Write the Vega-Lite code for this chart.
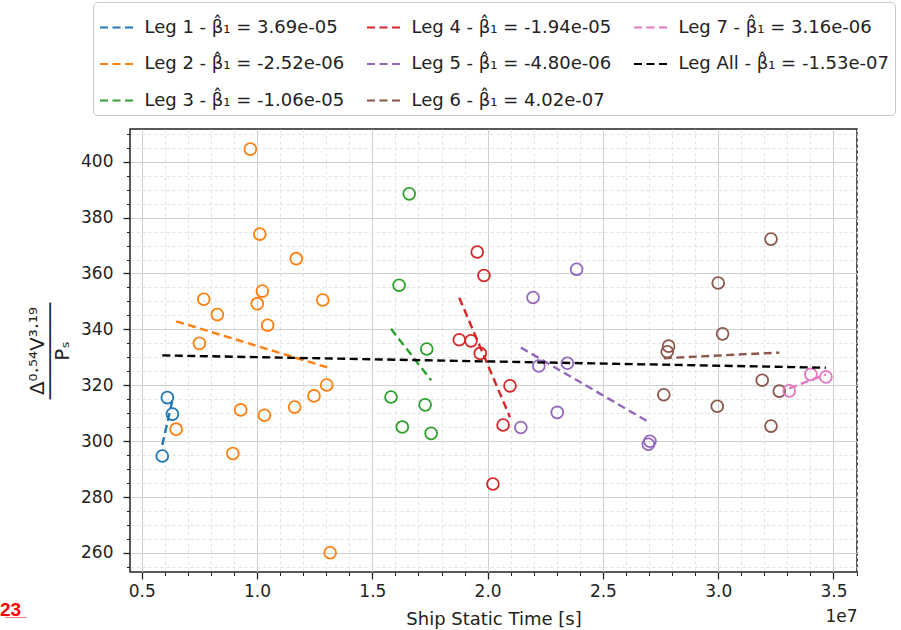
{
  "$schema": "https://vega.github.io/schema/vega-lite/v6.json",
  "width": 727,
  "height": 443,
  "autosize": {"type": "none"},
  "padding": {"left": 130, "top": 129, "right": 44, "bottom": 58},
  "background": "#ffffff",
  "title": {"text": "2̲3̲", "orient": "bottom", "anchor": "start", "frame": "group", "dx": -130, "dy": -27, "offset": 0, "color": "#ff0000", "fontSize": 19, "fontWeight": "bold", "font": "Liberation Sans"},
  "config": {
    "font": "DejaVu Sans",
    "view": {"stroke": "#222222", "strokeWidth": 1.5},
    "legend": {
      "orient": "none", "legendX": -37, "legendY": -127, "columns": 3, "title": null,
      "symbolType": "stroke", "symbolSize": 1369, "symbolStrokeWidth": 2.2, "symbolDash": [8, 4.5], "symbolOpacity": 1,
      "labelFontSize": 18, "labelFont": "DejaVu Sans", "labelColor": "#222222", "labelLimit": 400, "labelOffset": 6,
      "strokeColor": "#c8c8c8", "fillColor": "#ffffff", "cornerRadius": 4, "padding": 5.5, "rowPadding": 7.5, "columnPadding": 18
    }
  },
  "datasets": {
    "points": [
      {"leg": "Leg 1", "x": 5890000, "y": 294.7}, {"leg": "Leg 1", "x": 6110000, "y": 315.6}, {"leg": "Leg 1", "x": 6330000, "y": 309.7},
      {"leg": "Leg 2", "x": 9710000, "y": 404.5}, {"leg": "Leg 2", "x": 10120000, "y": 374.1}, {"leg": "Leg 2", "x": 11700000, "y": 365.3},
      {"leg": "Leg 2", "x": 10230000, "y": 353.7}, {"leg": "Leg 2", "x": 7690000, "y": 350.8}, {"leg": "Leg 2", "x": 12850000, "y": 350.5},
      {"leg": "Leg 2", "x": 10010000, "y": 349.2}, {"leg": "Leg 2", "x": 8280000, "y": 345.3}, {"leg": "Leg 2", "x": 10460000, "y": 341.5},
      {"leg": "Leg 2", "x": 7500000, "y": 335.0}, {"leg": "Leg 2", "x": 13020000, "y": 320.1}, {"leg": "Leg 2", "x": 12470000, "y": 316.2},
      {"leg": "Leg 2", "x": 11630000, "y": 312.2}, {"leg": "Leg 2", "x": 9290000, "y": 311.2}, {"leg": "Leg 2", "x": 10320000, "y": 309.3},
      {"leg": "Leg 2", "x": 6490000, "y": 304.3}, {"leg": "Leg 2", "x": 8950000, "y": 295.6}, {"leg": "Leg 2", "x": 13170000, "y": 260.1},
      {"leg": "Leg 3", "x": 16600000, "y": 388.5}, {"leg": "Leg 3", "x": 16160000, "y": 355.8}, {"leg": "Leg 3", "x": 17360000, "y": 333.0},
      {"leg": "Leg 3", "x": 15810000, "y": 315.8}, {"leg": "Leg 3", "x": 17290000, "y": 313.0}, {"leg": "Leg 3", "x": 16300000, "y": 305.1},
      {"leg": "Leg 3", "x": 17550000, "y": 302.8},
      {"leg": "Leg 4", "x": 19550000, "y": 367.7}, {"leg": "Leg 4", "x": 19840000, "y": 359.3}, {"leg": "Leg 4", "x": 18770000, "y": 336.3},
      {"leg": "Leg 4", "x": 19280000, "y": 335.9}, {"leg": "Leg 4", "x": 19680000, "y": 331.4}, {"leg": "Leg 4", "x": 20970000, "y": 319.8},
      {"leg": "Leg 4", "x": 20670000, "y": 305.8}, {"leg": "Leg 4", "x": 20230000, "y": 284.7},
      {"leg": "Leg 5", "x": 23860000, "y": 361.5}, {"leg": "Leg 5", "x": 21970000, "y": 351.4}, {"leg": "Leg 5", "x": 22220000, "y": 326.9},
      {"leg": "Leg 5", "x": 23460000, "y": 327.9}, {"leg": "Leg 5", "x": 23020000, "y": 310.3}, {"leg": "Leg 5", "x": 21440000, "y": 304.9},
      {"leg": "Leg 5", "x": 27040000, "y": 300.0}, {"leg": "Leg 5", "x": 26970000, "y": 298.9},
      {"leg": "Leg 6", "x": 32290000, "y": 372.3}, {"leg": "Leg 6", "x": 30000000, "y": 356.6}, {"leg": "Leg 6", "x": 30190000, "y": 338.4},
      {"leg": "Leg 6", "x": 27850000, "y": 334.0}, {"leg": "Leg 6", "x": 27790000, "y": 332.0}, {"leg": "Leg 6", "x": 31910000, "y": 321.8},
      {"leg": "Leg 6", "x": 32650000, "y": 317.9}, {"leg": "Leg 6", "x": 27640000, "y": 316.6}, {"leg": "Leg 6", "x": 29960000, "y": 312.5},
      {"leg": "Leg 6", "x": 32290000, "y": 305.4},
      {"leg": "Leg 7", "x": 33080000, "y": 318.0}, {"leg": "Leg 7", "x": 34020000, "y": 323.9}, {"leg": "Leg 7", "x": 34670000, "y": 323.0}
    ],
    "fits": [
      {"leg": "Leg 1", "x": 5890000, "y": 298.6}, {"leg": "Leg 1", "x": 6330000, "y": 314.8},
      {"leg": "Leg 2", "x": 6490000, "y": 342.9}, {"leg": "Leg 2", "x": 13170000, "y": 326.1},
      {"leg": "Leg 3", "x": 15810000, "y": 340.2}, {"leg": "Leg 3", "x": 17550000, "y": 321.8},
      {"leg": "Leg 4", "x": 18770000, "y": 351.3}, {"leg": "Leg 4", "x": 20970000, "y": 308.6},
      {"leg": "Leg 5", "x": 21440000, "y": 333.5}, {"leg": "Leg 5", "x": 27040000, "y": 306.6},
      {"leg": "Leg 6", "x": 27640000, "y": 329.7}, {"leg": "Leg 6", "x": 32650000, "y": 331.7},
      {"leg": "Leg 7", "x": 33080000, "y": 318.9}, {"leg": "Leg 7", "x": 34670000, "y": 323.9},
      {"leg": "Leg All", "x": 5890000, "y": 330.7}, {"leg": "Leg All", "x": 34670000, "y": 326.3}
    ]
  },
  "layer": [
    {
      "data": {"name": "points"},
      "mark": {"type": "point", "shape": "circle", "filled": false, "size": 140, "strokeWidth": 1.8, "opacity": 1},
      "encoding": {
        "x": {"field": "x", "type": "quantitative",
          "scale": {"domain": [4490000, 36020000], "nice": false, "zero": false},
          "axis": {"orient": "bottom", "values": [5000000, 10000000, 15000000, 20000000, 25000000, 30000000, 35000000],
            "labelExpr": "format(datum.value / 10000000, '.1f')", "labelFlush": false,
            "title": "Ship Static Time [s]", "grid": true, "gridColor": "#cfcfcf", "gridWidth": 1,
            "tickSize": 7, "tickWidth": 1.3, "tickColor": "#222222", "domain": false,
            "labelFontSize": 17, "labelPadding": 4, "labelColor": "#222222",
            "titleFontSize": 18, "titleFontWeight": "normal", "titleColor": "#222222", "titlePadding": 11}},
        "y": {"field": "y", "type": "quantitative",
          "scale": {"domain": [253.2, 411.7], "nice": false, "zero": false},
          "axis": {"orient": "left", "values": [260, 280, 300, 320, 340, 360, 380, 400],
            "title": ["Δ⁰·⁵⁴V³·¹⁹", "────────", "Pₛ"], "titleLineHeight": 12.5,
            "grid": true, "gridColor": "#cfcfcf", "gridWidth": 1,
            "tickSize": 7, "tickWidth": 1.3, "tickColor": "#222222", "domain": false,
            "labelFontSize": 17, "labelPadding": 10, "labelColor": "#222222",
            "titleFontSize": 20, "titleFontWeight": "normal", "titleColor": "#222222", "titlePadding": 8}},
        "color": {"field": "leg", "type": "nominal",
          "scale": {"domain": ["Leg 1", "Leg 2", "Leg 3", "Leg 4", "Leg 5", "Leg 6", "Leg 7", "Leg All"],
            "range": ["#1f77b4", "#ff7f0e", "#2ca02c", "#d62728", "#9467bd", "#8c564b", "#e377c2", "#000000"]},
          "legend": {"labelExpr": "{'Leg 1': 'Leg 1 - β̂₁ = 3.69e-05', 'Leg 2': 'Leg 2 - β̂₁ = -2.52e-06', 'Leg 3': 'Leg 3 - β̂₁ = -1.06e-05', 'Leg 4': 'Leg 4 - β̂₁ = -1.94e-05', 'Leg 5': 'Leg 5 - β̂₁ = -4.80e-06', 'Leg 6': 'Leg 6 - β̂₁ = 4.02e-07', 'Leg 7': 'Leg 7 - β̂₁ = 3.16e-06', 'Leg All': 'Leg All - β̂₁ = -1.53e-07'}[datum.label]"}}
      }
    },
    {
      "data": {"name": "fits"},
      "mark": {"type": "line", "strokeWidth": 2.4, "strokeDash": [8, 4.5]},
      "encoding": {
        "x": {"field": "x", "type": "quantitative",
          "scale": {"domain": [4490000, 36020000], "nice": false, "zero": false},
          "axis": {"orient": "bottom", "values": [6000000, 7000000, 8000000, 9000000, 11000000, 12000000, 13000000, 14000000, 16000000, 17000000, 18000000, 19000000, 21000000, 22000000, 23000000, 24000000, 26000000, 27000000, 28000000, 29000000, 31000000, 32000000, 33000000, 34000000, 36000000],
            "labels": false, "grid": true, "gridColor": "#e2e2e2", "gridDash": [3, 3], "gridWidth": 1,
            "tickSize": 3.5, "tickWidth": 1, "tickColor": "#222222", "domain": false,
            "title": "1e7", "titleAnchor": "end", "titleAlign": "right", "titleFontSize": 17, "titleFontWeight": "normal", "titleColor": "#222222", "titlePadding": 32}},
        "y": {"field": "y", "type": "quantitative",
          "scale": {"domain": [253.2, 411.7], "nice": false, "zero": false},
          "axis": {"orient": "left", "values": [255, 265, 270, 275, 285, 290, 295, 305, 310, 315, 325, 330, 335, 345, 350, 355, 365, 370, 375, 385, 390, 395, 405, 410],
            "labels": false, "grid": true, "gridColor": "#e2e2e2", "gridDash": [3, 3], "gridWidth": 1,
            "tickSize": 3.5, "tickWidth": 1, "tickColor": "#222222", "domain": false, "title": null}},
        "color": {"field": "leg", "type": "nominal",
          "scale": {"domain": ["Leg 1", "Leg 2", "Leg 3", "Leg 4", "Leg 5", "Leg 6", "Leg 7", "Leg All"],
            "range": ["#1f77b4", "#ff7f0e", "#2ca02c", "#d62728", "#9467bd", "#8c564b", "#e377c2", "#000000"]}}
      }
    }
  ],
  "resolve": {"axis": {"x": "independent", "y": "independent"}}
}
